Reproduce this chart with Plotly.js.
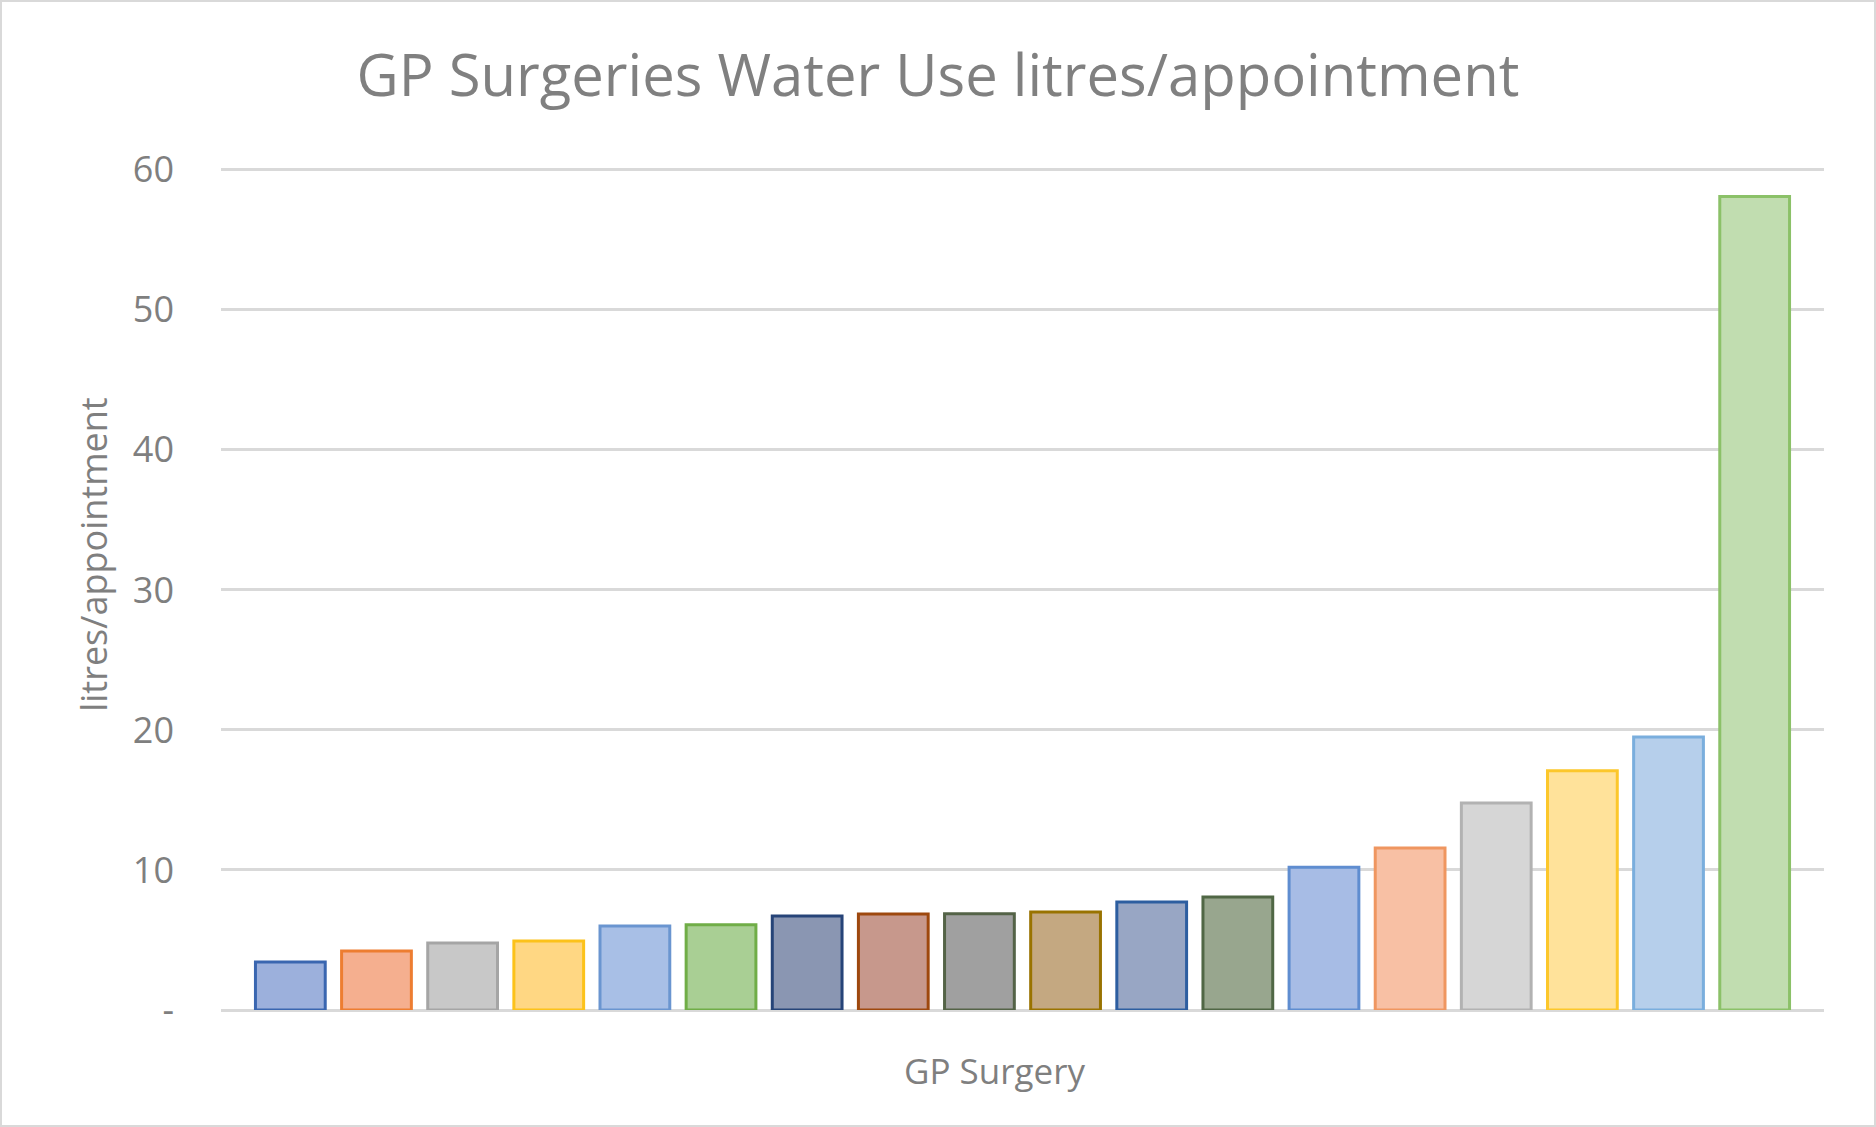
<!DOCTYPE html>
<html>
<head>
<meta charset="utf-8">
<script src="https://cdn.plot.ly/plotly-3.0.1.min.js"></script>
<style>
    html, body { margin: 0; padding: 0; background: #ffffff; }
    #chartBox {
        position: absolute; left: 0; top: 0;
        width: 1876px; height: 1127px;
        box-sizing: border-box;
        border: 2px solid #d9d9d9;
        background: #ffffff;
    }
</style>
</head>
<body>
<div id="chartBox"><div id="graph"></div></div>
<script>
"use strict";

// --- data ---
const surgeries = [
    'Surgery 1', 'Surgery 2', 'Surgery 3', 'Surgery 4', 'Surgery 5', 'Surgery 6',
    'Surgery 7', 'Surgery 8', 'Surgery 9', 'Surgery 10', 'Surgery 11', 'Surgery 12',
    'Surgery 13', 'Surgery 14', 'Surgery 15', 'Surgery 16', 'Surgery 17', 'Surgery 18'
];
const litresPerAppointment = [
    3.43, 4.21, 4.79, 4.93, 6.0, 6.09, 6.72, 6.86, 6.87,
    7.0, 7.71, 8.07, 10.19, 11.57, 14.79, 17.09, 19.5, 58.1
];
const yTickVals = [0, 10, 20, 30, 40, 50, 60];
const yTickText = ['-', '10', '20', '30', '40', '50', '60'];

// per-bar colours (Excel "vary colours by point")
const barFills = [
    '#9cb0dc', '#f5af8f', '#c8c8c8', '#ffd783', '#a8bfe6', '#a9cf94',
    '#8a96b2', '#c7988c', '#a0a0a0', '#c4a881', '#98a6c4', '#98a68e',
    '#a7bce5', '#f8c0a4', '#d6d6d6', '#ffe29a', '#b6cfeb', '#c1ddb0'
];
const barLines = [
    '#3a66b0', '#ed7d31', '#a5a5a5', '#fcc21a', '#6a95d0', '#70ad47',
    '#264478', '#9e480e', '#546347', '#997300', '#2d5ea0', '#506745',
    '#5f8dd0', '#ef9660', '#b2b2b2', '#fcc72b', '#7aaedd', '#8bc168'
];

const textGrey = '#7f7f7f';
const gridGrey = '#d9d9d9';

const traces = [{
    type: 'bar',
    x: surgeries,
    y: litresPerAppointment,
    marker: {
        color: barFills,
        line: { color: barLines, width: 3 }
    },
    hoverinfo: 'x+y',
    showlegend: false
}];

const layout = {
    width: 1872, height: 1123,
    margin: { l: 219, r: 50, t: 165.2, b: 115, pad: 0 },
    paper_bgcolor: '#ffffff', plot_bgcolor: '#ffffff',
    font: { family: '"Open Sans", sans-serif', color: textGrey },
    title: {
        text: 'GP Surgeries Water Use litres/appointment',
        font: { family: '"Open Sans", sans-serif', size: 58, color: '#808080' },
        x: 0.5, xanchor: 'center',
        y: 0.934, yref: 'container', yanchor: 'middle'
    },
    bargap: 0.19,
    xaxis: {
        type: 'category',
        range: [-0.805, 17.805],
        showticklabels: false, ticks: '', showgrid: false, zeroline: false, showline: false
    },
    yaxis: {
        range: [0, 60.2],
        tickmode: 'array', tickvals: yTickVals, ticktext: yTickText,
        tickfont: { size: 36, color: textGrey },
        ticklabelstandoff: 46,
        showgrid: true, gridcolor: gridGrey, gridwidth: 3,
        zeroline: true, zerolinecolor: gridGrey, zerolinewidth: 3,
        showline: false, ticks: ''
    },
    // axis titles sit off-centre in the reference, so they are placed as annotations
    annotations: [
        {
            text: 'GP Surgery', showarrow: false,
            xref: 'paper', yref: 'paper', x: 0.4828, y: -0.0712,
            xanchor: 'center', yanchor: 'middle',
            font: { size: 35, color: textGrey }
        },
        {
            text: 'litres/appointment', showarrow: false, textangle: -90,
            xref: 'paper', yref: 'paper', x: -0.0792, y: 0.540,
            xanchor: 'center', yanchor: 'middle',
            font: { size: 36, color: textGrey }
        }
    ]
};

Plotly.newPlot('graph', traces, layout, { displayModeBar: false, staticPlot: true }).catch(err => {
    console.error('Grafik çizilirken hata:', err);
});
</script>
</body>
</html>
